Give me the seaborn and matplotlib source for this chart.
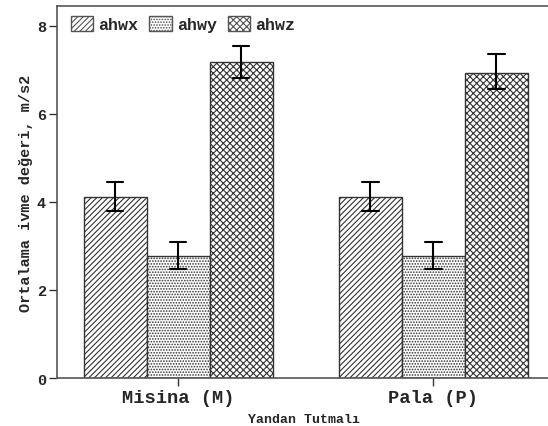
import matplotlib
matplotlib.use("Agg")
import matplotlib.pyplot as plt
from matplotlib.patches import Patch
import seaborn as sns
import pandas as pd

categories = ["Misina (M)", "Pala (P)"]
series = ["ahwx", "ahwy", "ahwz"]
means = {"ahwx": [4.11, 4.11], "ahwy": [2.77, 2.77], "ahwz": [7.17, 6.93]}
err_low = {"ahwx": [3.80, 3.79], "ahwy": [2.48, 2.48], "ahwz": [6.82, 6.57]}
err_high = {"ahwx": [4.45, 4.45], "ahwy": [3.09, 3.09], "ahwz": [7.55, 7.36]}
yticks = [0, 2, 4, 6, 8]

rows = []
for s in series:
    for c, v in zip(categories, means[s]):
        rows.append({"cat": c, "series": s, "value": v})
df = pd.DataFrame(rows)

sns.set_style("white")
plt.rcParams["hatch.color"] = "#333333"
plt.rcParams["hatch.linewidth"] = 0.8

fig = plt.figure(figsize=(5.48, 4.27), dpi=100)
ax = fig.add_axes([0.104, 0.1124, 0.9, 0.8712])

hatches = ["//////", "......", "xxxxx"]

sns.barplot(data=df, x="cat", y="value", hue="series", order=categories,
            hue_order=series, errorbar=None, width=0.74, ax=ax,
            palette=["white"] * 3, edgecolor="#333333", linewidth=1.0,
            legend=False)

for i, (cont, s) in enumerate(zip(ax.containers, series)):
    for j, bar in enumerate(cont):
        bar.set_hatch(hatches[i])
        bar.set_facecolor("white")
        bar.set_edgecolor("#333333")
        xc = bar.get_x() + bar.get_width() / 2
        lo, hi = err_low[s][j], err_high[s][j]
        hw = bar.get_width() * 0.13
        ax.plot([xc, xc], [lo, hi], color="black", lw=1.5)
        ax.plot([xc - hw, xc + hw], [lo, lo], color="black", lw=1.5)
        ax.plot([xc - hw, xc + hw], [hi, hi], color="black", lw=1.5)

ax.set_xlim(-0.4745, 1.451 * 0.9 / 0.896)
ax.set_ylim(0, 8.45)
ax.set_yticks(yticks)
ax.set_yticklabels([str(t) for t in yticks], fontfamily="Liberation Mono",
                   fontweight="bold", fontsize=11)
ax.set_xticks([0, 1])
ax.set_xticklabels(categories, fontfamily="Liberation Mono", fontweight="bold",
                   fontsize=13.5)
ax.tick_params(axis="both", direction="out", length=6, width=1, color="#333333",
               bottom=True, left=True, pad=2)
for side in ["left", "bottom", "top"]:
    ax.spines[side].set_color("#555555")
    ax.spines[side].set_linewidth(1.2)
ax.spines["right"].set_visible(False)

ax.set_ylabel("Ortalama ivme değeri, m/s2", fontfamily="Liberation Mono",
              fontweight="bold", fontsize=11, labelpad=3)
ax.set_xlabel("Yandan Tutmalı", fontfamily="Liberation Mono",
              fontweight="bold", fontsize=9.5, labelpad=5)

handles = [Patch(facecolor="white", edgecolor="#555555", hatch=h, label=s)
           for h, s in zip(hatches, series)]
ax.legend(handles=handles, loc="upper left", ncol=3, frameon=False,
          bbox_to_anchor=(0.008, 1.0), handlelength=1.35, handleheight=1.0,
          handletextpad=0.3, columnspacing=0.65, borderaxespad=0.2,
          prop={"family": "Liberation Mono", "weight": "bold", "size": 12})

fig.savefig("out.png", dpi=100)
